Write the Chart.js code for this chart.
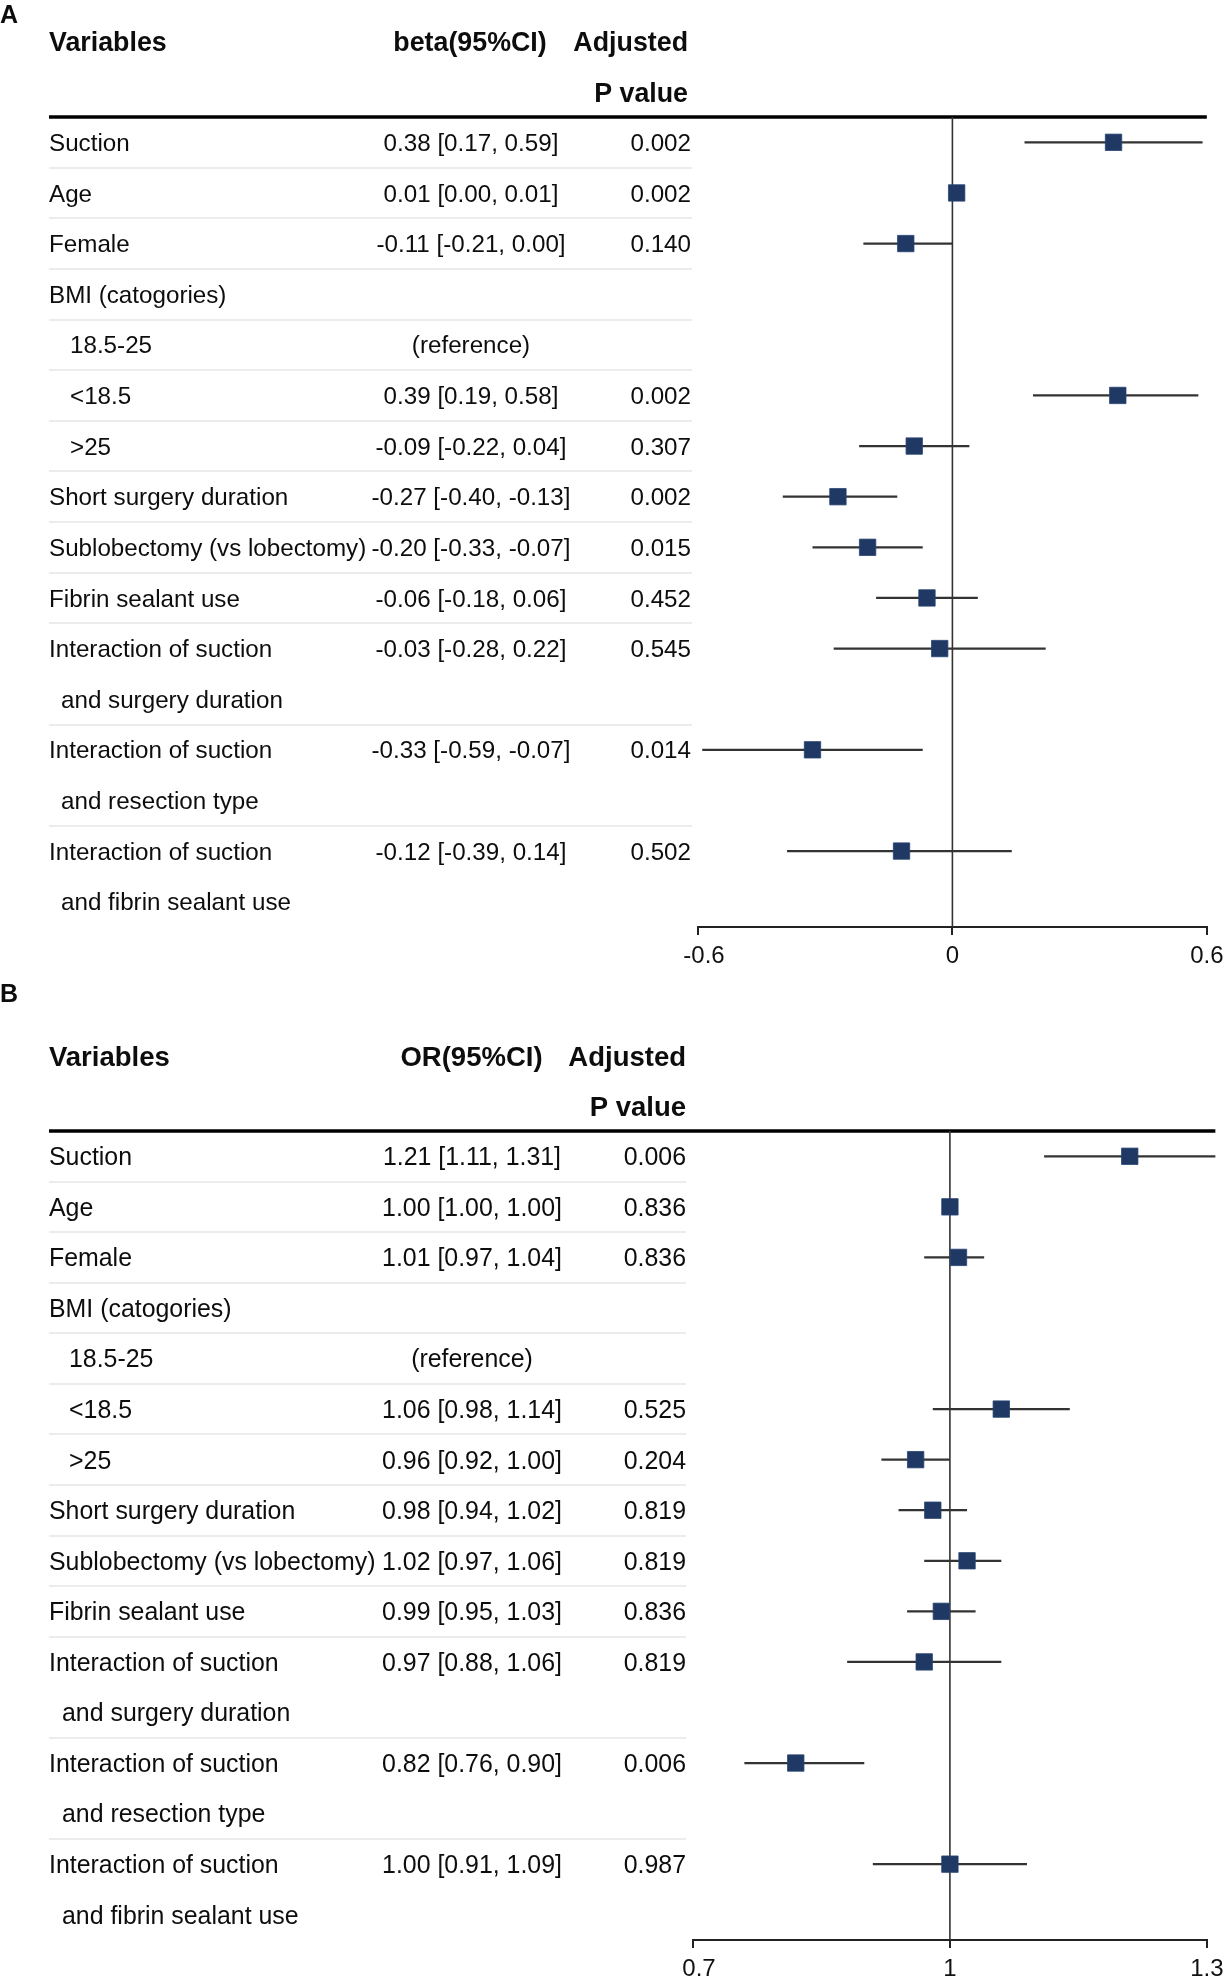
<!DOCTYPE html>
<html>
<head>
<meta charset="utf-8">
<script src="https://cdn.jsdelivr.net/npm/chart.js@4.4.1/dist/chart.umd.min.js"></script>
<style>
  html, body { margin: 0; padding: 0; background: #fff; }
  #wrap { position: relative; width: 1230px; height: 1977px; overflow: hidden; background: #fff; }
  canvas { position: absolute; left: 0; }
</style>
</head>
<body>
<div id="wrap">
  <canvas id="chartA" width="1230" height="980" style="top:0px"></canvas>
  <canvas id="chartB" width="1230" height="1010" style="top:980px"></canvas>
</div>
<script>
// ---------------- DATA ----------------
const variables = [
  "Suction", "Age", "Female", "BMI (catogories)", "18.5-25", "<18.5", ">25",
  "Short surgery duration", "Sublobectomy (vs lobectomy)", "Fibrin sealant use",
  "Interaction of suction", "and surgery duration",
  "Interaction of suction", "and resection type",
  "Interaction of suction", "and fibrin sealant use"
];
// 0 = main variable, 1 = sub-category, 2 = continuation line of the previous label
const variableLevel = [0, 0, 0, 0, 1, 1, 1, 0, 0, 0, 0, 2, 0, 2, 0, 2];
const referenceRow = 4;
const headerNames = ["Variables", "Adjusted", "P value"];

// Panel A: beta (95% CI)
const betaHeader = "beta(95%CI)";
const betaEst  = [0.38, 0.01, -0.11, null, null, 0.39, -0.09, -0.27, -0.20, -0.06, -0.03, null, -0.33, null, -0.12, null];
const betaLow  = [0.17, 0.00, -0.21, null, null, 0.19, -0.22, -0.40, -0.33, -0.18, -0.28, null, -0.59, null, -0.39, null];
const betaHigh = [0.59, 0.01,  0.00, null, null, 0.58,  0.04, -0.13, -0.07,  0.06,  0.22, null, -0.07, null,  0.14, null];
const betaP    = ["0.002", "0.002", "0.140", "", "", "0.002", "0.307", "0.002", "0.015", "0.452", "0.545", "", "0.014", "", "0.502", ""];
const betaTicks = [-0.6, 0, 0.6];
const betaRef = 0;

// Panel B: OR (95% CI)
const orHeader = "OR(95%CI)";
const orEst  = [1.21, 1.00, 1.01, null, null, 1.06, 0.96, 0.98, 1.02, 0.99, 0.97, null, 0.82, null, 1.00, null];
const orLow  = [1.11, 1.00, 0.97, null, null, 0.98, 0.92, 0.94, 0.97, 0.95, 0.88, null, 0.76, null, 0.91, null];
const orHigh = [1.31, 1.00, 1.04, null, null, 1.14, 1.00, 1.02, 1.06, 1.03, 1.06, null, 0.90, null, 1.09, null];
const orP    = ["0.006", "0.836", "0.836", "", "", "0.525", "0.204", "0.819", "0.819", "0.836", "0.819", "", "0.006", "", "0.987", ""];
const orTicks = [0.7, 1, 1.3];
const orRef = 1;

// ---------------- RENDERING ----------------
const FAMILY = '"Liberation Sans", Arial, Helvetica, sans-serif';
Chart.defaults.font.family = FAMILY;
Chart.defaults.color = '#000';

function fmt(v) { return v.toFixed(2); }

const forestPlugin = {
  id: 'forest',
  beforeDatasetsDraw(chart, args, o) {
    const { ctx, chartArea } = chart;
    const xs = chart.scales.x, ys = chart.scales.y;
    const S = o.style, D = o.data;
    ctx.save();
    ctx.fillStyle = '#0d0d0d';
    ctx.textBaseline = 'middle';

    // panel letter
    ctx.font = `bold ${S.panelFont}px ${FAMILY}`;
    ctx.textAlign = 'left';
    ctx.fillText(S.panel, 0, S.panelY);

    // header
    ctx.font = `bold ${S.headFont}px ${FAMILY}`;
    const h1 = ys.getPixelForValue(-2) + S.headDy;
    const h2 = ys.getPixelForValue(-1) + S.headDy;
    ctx.textAlign = 'left';
    ctx.fillText(headerNames[0], S.xVar, h1);
    ctx.textAlign = 'center';
    ctx.fillText(D.header, S.xEstHead, h1);
    ctx.textAlign = 'right';
    ctx.fillText(headerNames[1], S.xPHead, h1);
    ctx.fillText(headerNames[2], S.xPHead, h2);

    // row separators
    ctx.strokeStyle = '#ececec';
    ctx.lineWidth = 2;
    for (let i = 0; i < variables.length - 1; i++) {
      if (variableLevel[i + 1] === 2) continue;
      const yy = Math.round(ys.getPixelForValue(i + 0.5));
      ctx.beginPath();
      ctx.moveTo(S.xVar, yy);
      ctx.lineTo(S.xTableEnd, yy);
      ctx.stroke();
    }

    // body text
    ctx.font = `${S.bodyFont}px ${FAMILY}`;
    for (let i = 0; i < variables.length; i++) {
      const yy = ys.getPixelForValue(i) + S.bodyDy;
      const lvl = variableLevel[i];
      ctx.textAlign = 'left';
      ctx.fillText(variables[i], lvl === 1 ? S.xSub : (lvl === 2 ? S.xCont : S.xVar), yy);
      ctx.textAlign = 'center';
      if (i === referenceRow) {
        ctx.fillText('(reference)', S.xEst, yy);
      } else if (D.est[i] !== null) {
        ctx.fillText(`${fmt(D.est[i])} [${fmt(D.low[i])}, ${fmt(D.high[i])}]`, S.xEst, yy);
      }
      ctx.textAlign = 'right';
      if (D.p[i]) ctx.fillText(D.p[i], S.xP, yy);
    }

    // thick header rule
    const maxHi = Math.max(...D.high.filter(v => v !== null));
    const ruleEnd = Math.max(chartArea.right, xs.getPixelForValue(maxHi));
    ctx.strokeStyle = '#000';
    ctx.lineWidth = 3.5;
    ctx.beginPath();
    ctx.moveTo(S.xVar, chartArea.top);
    ctx.lineTo(ruleEnd, chartArea.top);
    ctx.stroke();

    // reference (null effect) line
    const xr = xs.getPixelForValue(D.ref);
    ctx.strokeStyle = '#333';
    ctx.lineWidth = 1.6;
    ctx.beginPath();
    ctx.moveTo(xr, chartArea.top);
    ctx.lineTo(xr, chartArea.bottom);
    ctx.stroke();

    // confidence intervals
    ctx.strokeStyle = '#333';
    ctx.lineWidth = 2.2;
    for (let i = 0; i < D.est.length; i++) {
      if (D.est[i] === null) continue;
      const yy = ys.getPixelForValue(i);
      ctx.beginPath();
      ctx.moveTo(xs.getPixelForValue(D.low[i]), yy);
      ctx.lineTo(xs.getPixelForValue(D.high[i]), yy);
      ctx.stroke();
    }
    ctx.restore();
  }
};

const TICK_LEN = 8, TICK_PAD = 6.5;

function makeForest(id, D, S) {
  const pts = [];
  D.est.forEach((v, i) => { if (v !== null) pts.push({ x: v, y: i }); });
  const H = document.getElementById(id).height;
  const axisH = TICK_LEN + S.tickFont * 1.2 + 2 * TICK_PAD;
  const last = D.ticks.length - 1;
  return new Chart(document.getElementById(id), {
    type: 'scatter',
    data: {
      datasets: [{
        data: pts,
        pointStyle: 'rect',
        pointRadius: 11.6,
        pointHoverRadius: 11.6,
        backgroundColor: '#1f3864',
        borderColor: '#2a4573',
        borderWidth: 0.8,
        clip: false
      }]
    },
    options: {
      responsive: false,
      animation: false,
      events: [],
      layout: {
        padding: { left: S.plotLeft, right: 1230 - S.plotRight, top: S.plotTop, bottom: H - S.plotBottom - axisH }
      },
      plugins: {
        legend: { display: false },
        tooltip: { enabled: false },
        forest: { data: D, style: S }
      },
      scales: {
        x: {
          type: 'linear',
          min: D.ticks[0],
          max: D.ticks[last],
          afterBuildTicks: (s) => { s.ticks = D.ticks.map(v => ({ value: v })); },
          ticks: {
            font: { size: S.tickFont },
            color: '#111',
            padding: TICK_PAD,
            maxRotation: 0,
            autoSkip: false,
            callback: (v, i) => (i === 0) ? '\u2002' + String(v) : String(v)
          },
          grid: { display: true, drawOnChartArea: false, drawTicks: true, tickLength: TICK_LEN, color: '#222', lineWidth: 2 },
          border: { display: true, color: '#222', width: 2 }
        },
        y: {
          type: 'linear',
          min: -0.5,
          max: variables.length - 0.5,
          reverse: true,
          display: false
        }
      }
    },
    plugins: [forestPlugin]
  });
}

makeForest('chartA',
  { header: betaHeader, est: betaEst, low: betaLow, high: betaHigh, p: betaP, ticks: betaTicks, ref: betaRef },
  { panel: 'A', panelY: 16, panelFont: 25, headFont: 26.8, bodyFont: 24.2, tickFont: 24,
    headDy: 3, bodyDy: 2,
    xVar: 49, xSub: 70, xCont: 61, xEst: 471, xEstHead: 470, xP: 691, xPHead: 688, xTableEnd: 692,
    plotLeft: 698, plotRight: 1207, plotTop: 117, plotBottom: 927 });

makeForest('chartB',
  { header: orHeader, est: orEst, low: orLow, high: orHigh, p: orP, ticks: orTicks, ref: orRef },
  { panel: 'B', panelY: 15, panelFont: 25, headFont: 27.5, bodyFont: 24.9, tickFont: 24,
    headDy: 3, bodyDy: 2,
    xVar: 49, xSub: 69, xCont: 62, xEst: 472, xEstHead: 471.5, xP: 686, xPHead: 686, xTableEnd: 686,
    plotLeft: 693, plotRight: 1209, plotTop: 151, plotBottom: 960 });
</script>
</body>
</html>
